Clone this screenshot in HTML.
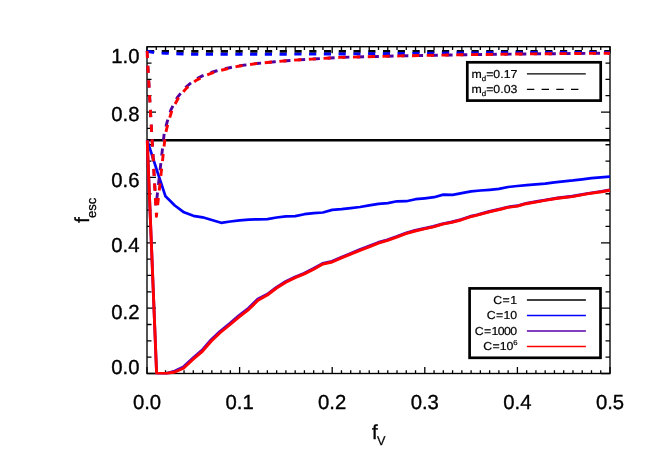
<!DOCTYPE html>
<html><head><meta charset="utf-8"><title>f_esc vs f_V</title>
<style>
html,body{margin:0;padding:0;background:#fff;}
body{width:654px;height:467px;overflow:hidden;}
svg{display:block;will-change:transform;}
text{font-family:"Liberation Sans",sans-serif;fill:#000;text-rendering:geometricPrecision;}
</style></head><body>
<svg width="654" height="467" viewBox="0 0 654 467">
<rect width="654" height="467" fill="#fff"/>
<defs><clipPath id="cp"><rect x="145.5" y="45.7" width="466.0" height="328.8"/></clipPath></defs>
<!-- axes frame -->
<rect x="147.0" y="46.7" width="463.0" height="326.8" fill="none" stroke="#000" stroke-width="1.35"/>
<path d="M147.00 46.70 v6.5 M147.00 373.50 v-6.5 M156.26 46.70 v3.3 M156.26 373.50 v-3.3 M165.52 46.70 v3.3 M165.52 373.50 v-3.3 M174.78 46.70 v3.3 M174.78 373.50 v-3.3 M184.04 46.70 v3.3 M184.04 373.50 v-3.3 M193.30 46.70 v3.3 M193.30 373.50 v-3.3 M202.56 46.70 v3.3 M202.56 373.50 v-3.3 M211.82 46.70 v3.3 M211.82 373.50 v-3.3 M221.08 46.70 v3.3 M221.08 373.50 v-3.3 M230.34 46.70 v3.3 M230.34 373.50 v-3.3 M239.60 46.70 v6.5 M239.60 373.50 v-6.5 M248.86 46.70 v3.3 M248.86 373.50 v-3.3 M258.12 46.70 v3.3 M258.12 373.50 v-3.3 M267.38 46.70 v3.3 M267.38 373.50 v-3.3 M276.64 46.70 v3.3 M276.64 373.50 v-3.3 M285.90 46.70 v3.3 M285.90 373.50 v-3.3 M295.16 46.70 v3.3 M295.16 373.50 v-3.3 M304.42 46.70 v3.3 M304.42 373.50 v-3.3 M313.68 46.70 v3.3 M313.68 373.50 v-3.3 M322.94 46.70 v3.3 M322.94 373.50 v-3.3 M332.20 46.70 v6.5 M332.20 373.50 v-6.5 M341.46 46.70 v3.3 M341.46 373.50 v-3.3 M350.72 46.70 v3.3 M350.72 373.50 v-3.3 M359.98 46.70 v3.3 M359.98 373.50 v-3.3 M369.24 46.70 v3.3 M369.24 373.50 v-3.3 M378.50 46.70 v3.3 M378.50 373.50 v-3.3 M387.76 46.70 v3.3 M387.76 373.50 v-3.3 M397.02 46.70 v3.3 M397.02 373.50 v-3.3 M406.28 46.70 v3.3 M406.28 373.50 v-3.3 M415.54 46.70 v3.3 M415.54 373.50 v-3.3 M424.80 46.70 v6.5 M424.80 373.50 v-6.5 M434.06 46.70 v3.3 M434.06 373.50 v-3.3 M443.32 46.70 v3.3 M443.32 373.50 v-3.3 M452.58 46.70 v3.3 M452.58 373.50 v-3.3 M461.84 46.70 v3.3 M461.84 373.50 v-3.3 M471.10 46.70 v3.3 M471.10 373.50 v-3.3 M480.36 46.70 v3.3 M480.36 373.50 v-3.3 M489.62 46.70 v3.3 M489.62 373.50 v-3.3 M498.88 46.70 v3.3 M498.88 373.50 v-3.3 M508.14 46.70 v3.3 M508.14 373.50 v-3.3 M517.40 46.70 v6.5 M517.40 373.50 v-6.5 M526.66 46.70 v3.3 M526.66 373.50 v-3.3 M535.92 46.70 v3.3 M535.92 373.50 v-3.3 M545.18 46.70 v3.3 M545.18 373.50 v-3.3 M554.44 46.70 v3.3 M554.44 373.50 v-3.3 M563.70 46.70 v3.3 M563.70 373.50 v-3.3 M572.96 46.70 v3.3 M572.96 373.50 v-3.3 M582.22 46.70 v3.3 M582.22 373.50 v-3.3 M591.48 46.70 v3.3 M591.48 373.50 v-3.3 M600.74 46.70 v3.3 M600.74 373.50 v-3.3 M610.00 46.70 v6.5 M610.00 373.50 v-6.5 M147.00 373.50 h9.0 M610.00 373.50 h-9.0 M147.00 357.16 h4.5 M610.00 357.16 h-4.5 M147.00 340.82 h4.5 M610.00 340.82 h-4.5 M147.00 324.48 h4.5 M610.00 324.48 h-4.5 M147.00 308.14 h9.0 M610.00 308.14 h-9.0 M147.00 291.80 h4.5 M610.00 291.80 h-4.5 M147.00 275.46 h4.5 M610.00 275.46 h-4.5 M147.00 259.12 h4.5 M610.00 259.12 h-4.5 M147.00 242.78 h9.0 M610.00 242.78 h-9.0 M147.00 226.44 h4.5 M610.00 226.44 h-4.5 M147.00 210.10 h4.5 M610.00 210.10 h-4.5 M147.00 193.76 h4.5 M610.00 193.76 h-4.5 M147.00 177.42 h9.0 M610.00 177.42 h-9.0 M147.00 161.08 h4.5 M610.00 161.08 h-4.5 M147.00 144.74 h4.5 M610.00 144.74 h-4.5 M147.00 128.40 h4.5 M610.00 128.40 h-4.5 M147.00 112.06 h9.0 M610.00 112.06 h-9.0 M147.00 95.72 h4.5 M610.00 95.72 h-4.5 M147.00 79.38 h4.5 M610.00 79.38 h-4.5 M147.00 63.04 h4.5 M610.00 63.04 h-4.5 M147.00 46.70 h9.0 M610.00 46.70 h-9.0" stroke="#000" stroke-width="1.3" fill="none"/>
<g clip-path="url(#cp)" fill="none" stroke-linejoin="round">
<!-- solid curves -->
<path d="M147.0 140.2 H610.0" stroke="#000" stroke-width="2.55"/>
<path d="M147.2 140.2 L156.3 168.5 L165.5 196.3 L174.8 205.5 L184.0 212.3 L193.3 215.8 L202.6 217.3 L211.8 220.0 L221.1 222.8 L230.3 221.5 L239.6 220.4 L248.9 219.6 L258.1 219.3 L267.4 219.1 L276.6 217.5 L285.9 216.3 L295.2 216.1 L304.4 214.2 L313.7 213.1 L322.9 212.5 L332.2 209.9 L341.5 209.2 L350.7 208.2 L360.0 207.0 L369.2 205.4 L378.5 203.8 L387.8 203.1 L397.0 201.3 L406.3 201.2 L415.5 199.2 L424.8 198.3 L434.1 197.2 L443.3 194.6 L452.6 194.8 L461.8 193.1 L471.1 191.3 L480.4 190.5 L489.6 189.8 L498.9 188.9 L508.1 187.0 L517.4 186.0 L526.7 185.2 L535.9 184.4 L545.2 183.7 L554.4 182.3 L563.7 181.3 L573.0 180.4 L582.2 179.3 L591.5 178.2 L600.7 177.3 L610.0 176.7" stroke="#0000ff" stroke-width="2.7"/>
<path d="M147.2 140.2 L156.6 373.3 L166.4 373.5 L174.7 371.1 L183.2 367.0 L192.9 358.0 L202.1 350.1 L211.1 339.8 L220.1 331.3 L229.3 323.8 L238.9 315.6 L248.6 308.1 L257.8 299.1 L267.1 294.4 L276.3 287.4 L285.6 281.6 L294.9 277.0 L304.1 273.3 L313.4 268.6 L322.6 263.5 L331.9 261.4 L341.2 257.3 L350.4 253.6 L359.7 249.7 L368.9 246.2 L378.2 242.5 L387.3 239.8 L396.5 236.5 L405.7 233.1 L414.9 230.4 L424.0 228.5 L433.2 226.5 L442.4 223.8 L451.6 222.0 L460.7 219.7 L469.9 216.5 L476.9 214.8 L489.2 211.5 L501.4 208.7 L507.5 207.1 L517.3 205.8 L525.9 203.4 L538.1 201.2 L544.7 200.1 L557.5 198.0 L572.1 196.2 L586.8 193.6 L601.5 191.4 L609.7 189.9" stroke="#5a00c0" stroke-width="2.9"/>
<path d="M147.2 140.2 L156.6 373.3 L166.4 373.5 L175.0 372.0 L183.5 368.2 L193.2 359.2 L202.4 351.3 L211.4 341.0 L220.4 332.5 L229.6 325.0 L239.2 316.8 L248.9 309.3 L258.1 300.3 L267.4 295.0 L276.6 288.0 L285.9 282.2 L295.2 277.6 L304.4 273.9 L313.7 269.2 L322.9 264.1 L332.2 262.0 L341.5 257.9 L350.7 254.2 L360.0 250.3 L369.2 246.8 L378.5 243.1 L387.6 240.4 L396.8 237.1 L406.0 233.7 L415.2 231.0 L424.3 228.8 L433.5 226.8 L442.7 224.1 L451.9 222.3 L461.0 220.0 L470.2 216.8 L477.2 215.1 L489.5 211.8 L501.7 209.0 L507.8 207.4 L517.6 206.1 L526.2 203.7 L538.4 201.6 L545.0 200.4 L557.8 198.3 L572.4 196.6 L587.1 193.9 L601.8 191.7 L610.0 190.2" stroke="#ff0000" stroke-width="2.9"/>
<!-- dashed curves -->
<path d="M147.0 51.4 L610.0 51.35" stroke="#000" stroke-width="2.8" stroke-dasharray="7.2 7.55"/>
<path d="M147.0 51.2 L156.3 52.9 L165.5 53.3 L190 54.2 L270 54.25 L340 54.0 L400 53.5 L440 53.1 L520 52.6 L610.0 52.35" stroke="#0000ff" stroke-width="2.9" stroke-dasharray="7.2 7.55"/>
<path d="M147.0 51.0 L156.0 206.3 L164.2 133.5 L167.2 121.7 L170.8 110.1 L174.0 103.6 L177.2 97.6 L183.2 90.1 L186.0 87.0 L192.5 81.6 L195.6 79.3 L201.8 76.1 L206.2 74.2 L211.1 72.5 L216.1 71.0 L220.5 69.7 L238.0 65.9 L256.7 63.5 L275.0 61.7 L293.4 60.2 L311.7 59.1 L330.0 58.0 L340.0 57.4 L400.0 55.9 L460.0 54.8 L520.0 54.0 L610.0 53.2" stroke="#5000a0" stroke-width="2.9" stroke-dasharray="7.2 7.55"/>
<path d="M147.0 51.0 L156.4 216.4 L165.5 133.5 L168.5 121.7 L172.0 110.1 L174.8 104.5 L178.1 98.5 L184.0 91.0 L186.8 87.9 L193.3 82.5 L196.4 80.2 L202.6 77.0 L207.0 75.0 L211.8 73.2 L216.7 71.6 L221.1 70.3 L238.3 66.2 L256.7 63.5 L275.0 61.7 L293.4 60.2 L311.7 59.1 L330.0 58.0 L340.0 57.4 L400.0 55.9 L460.0 54.8 L520.0 54.0 L610.0 53.2" stroke="#ff0000" stroke-width="2.9" stroke-dasharray="7.2 7.55"/>
</g>
<!-- tick labels -->
<g font-size="20.3px" stroke="#000" stroke-width="0.35"><text x="147.0" y="409.3" text-anchor="middle">0.0</text><text x="239.6" y="409.3" text-anchor="middle">0.1</text><text x="332.2" y="409.3" text-anchor="middle">0.2</text><text x="424.8" y="409.3" text-anchor="middle">0.3</text><text x="517.4" y="409.3" text-anchor="middle">0.4</text><text x="610.0" y="409.3" text-anchor="middle">0.5</text><text x="139.5" y="373.5" text-anchor="end">0.0</text><text x="139.5" y="318.6" text-anchor="end">0.2</text><text x="139.5" y="252.2" text-anchor="end">0.4</text><text x="139.5" y="187.0" text-anchor="end">0.6</text><text x="139.5" y="120.9" text-anchor="end">0.8</text><text x="139.5" y="62.5" text-anchor="end">1.0</text></g>
<!-- axis titles -->
<text x="371.9" y="438.9" font-size="20.3px" stroke="#000" stroke-width="0.35">f<tspan font-size="12.7px" dy="6.1" dx="-0.5" stroke-width="0.25">V</tspan></text>
<text transform="translate(89.3,222.8) rotate(-90)" font-size="20.3px" stroke="#000" stroke-width="0.35">f<tspan font-size="13px" dy="6.4" dx="-0.8" stroke-width="0.25">esc</tspan></text>
<!-- legend 1 -->
<rect x="467.3" y="62.3" width="133.4" height="38.3" fill="#fff" stroke="#000" stroke-width="2.7"/>
<g font-size="11.5px" stroke="#000" stroke-width="0.2" transform="translate(471.5 0) scale(1.07 1) translate(-471.5 0)">
<text x="471.5" y="77.7">m<tspan font-size="7.4px" dy="3.6">d</tspan><tspan dy="-3.6">=0.17</tspan></text>
<text x="471.5" y="92.6">m<tspan font-size="7.4px" dy="3.6">d</tspan><tspan dy="-3.6">=0.03</tspan></text>
</g>
<path d="M526.9 73.85 H585.8" stroke="#000" stroke-width="1.4"/>
<path d="M526.9 89.3 H585.7" stroke="#000" stroke-width="1.2" stroke-dasharray="7.4 7.3"/>
<!-- legend 2 -->
<rect x="469.6" y="288.4" width="130.9" height="69.4" fill="#fff" stroke="#000" stroke-width="2.7"/>
<g font-size="11.5px" text-anchor="end" stroke="#000" stroke-width="0.2" transform="translate(517 0) scale(1.07 1) translate(-517 0)">
<text x="517.0" y="304.0" dx="0 0.45 0.4">C=1</text>
<text x="517.0" y="319.4" dx="0 0.4 0.3 -0.2">C=10</text>
<text x="517.0" y="334.9" dx="0 0.3 0.2 -0.55 -0.55 -0.6">C=1000</text>
<text x="513.55" y="350.3" dx="0 0.3 0.2 -0.2">C=10</text>
<text x="513.6" y="345.4" font-size="7.2px" text-anchor="start">6</text>
</g>
<path d="M526.9 299.95 H585.9" stroke="#000" stroke-width="1.5"/>
<path d="M526.9 315.5 H585.9" stroke="#0000ff" stroke-width="1.4"/>
<path d="M526.9 331.0 H585.9" stroke="#5a00a8" stroke-width="1.5"/>
<path d="M526.9 346.55 H585.9" stroke="#ff0000" stroke-width="1.4"/>
</svg>
</body></html>
